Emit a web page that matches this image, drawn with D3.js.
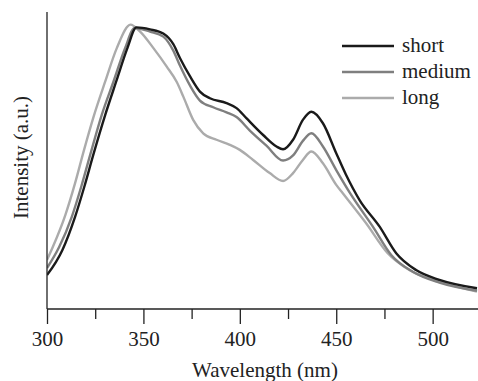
<!DOCTYPE html>
<html>
<head>
<meta charset="utf-8">
<script src="https://cdn.jsdelivr.net/npm/d3@7"></script>
<style>
  html, body { margin: 0; padding: 0; background: #fff; }
  svg { display: block; }
  text { font-family: "Liberation Serif", "Times New Roman", serif; fill: #222; }
</style>
</head>
<body>
<svg id="chart" width="478" height="381"></svg>
<script>
// ---- data ----
const seriesNames = ["short", "medium", "long"];
const seriesColors = ["#1a1a1a", "#7f7f7f", "#ababab"];

const shortWl = [300, 308.0, 314.6, 319.5, 324.0, 330.2, 335.9, 341.7, 346.4, 353.4, 360.3, 365.5, 369.0, 374.2, 379.3, 384.5, 393.1, 398.3, 403.4, 412.1, 419.0, 422.4, 427.6, 432.7, 437.1, 443.1, 450.0, 455.0, 462.1, 472.5, 481.1, 491.4, 503.5, 523];
const shortI  = [0.121, 0.211, 0.33, 0.44, 0.55, 0.693, 0.812, 0.931, 1.005, 0.998, 0.983, 0.945, 0.895, 0.83, 0.776, 0.752, 0.735, 0.717, 0.681, 0.621, 0.58, 0.57, 0.604, 0.675, 0.704, 0.663, 0.556, 0.48, 0.389, 0.294, 0.199, 0.139, 0.104, 0.074];

const mediumWl = [300, 306.3, 312.9, 317.9, 322.4, 328.4, 334.5, 340.5, 345.5, 353.4, 360.3, 365.5, 369.0, 374.2, 379.3, 386.2, 393.1, 398.3, 405.2, 413.8, 422.4, 427.6, 432.7, 437.1, 443.1, 450.0, 457.5, 469.0, 478.5, 489.7, 503.5, 523];
const mediumI  = [0.146, 0.221, 0.33, 0.44, 0.55, 0.693, 0.812, 0.931, 1.003, 0.99, 0.972, 0.922, 0.868, 0.797, 0.744, 0.72, 0.702, 0.685, 0.637, 0.583, 0.53, 0.548, 0.6, 0.627, 0.58, 0.496, 0.41, 0.294, 0.193, 0.133, 0.094, 0.065];

const longWl = [300, 303.0, 309.5, 314.6, 318.9, 324.1, 330.2, 336.2, 343.3, 348.3, 355.2, 362.1, 367.3, 370.7, 375.8, 381.0, 387.9, 394.8, 400.0, 406.9, 415.5, 422.4, 427.6, 432.7, 437.1, 443.1, 450.0, 453.4, 465.5, 476.7, 487.9, 503.5, 523];
const longI  = [0.175, 0.221, 0.335, 0.45, 0.56, 0.685, 0.812, 0.931, 1.015, 0.99, 0.931, 0.865, 0.81, 0.758, 0.675, 0.627, 0.604, 0.586, 0.568, 0.532, 0.485, 0.457, 0.485, 0.532, 0.562, 0.52, 0.443, 0.413, 0.306, 0.199, 0.139, 0.098, 0.062];

const majorTicks = [300, 350, 400, 450, 500];
const minorTicks = [325, 375, 425, 475];
const xTitle = "Wavelength (nm)";
const yTitle = "Intensity (a.u.)";

// ---- layout ----
const svg = d3.select("#chart");
const mLeft = 47, mRight = 478, mTop = 12, mBottom = 309;
const fontSize = 21;

const x = d3.scaleLinear().domain([300, 523]).range([mLeft, 477]);
const y = d3.scaleLinear().domain([0, 1.06]).range([mBottom, mTop]);

const series = [
  { name: seriesNames[0], color: seriesColors[0], wl: shortWl, v: shortI },
  { name: seriesNames[1], color: seriesColors[1], wl: mediumWl, v: mediumI },
  { name: seriesNames[2], color: seriesColors[2], wl: longWl, v: longI }
];

const line = d3.line()
  .x(d => x(d[0]))
  .y(d => y(d[1]))
  .curve(d3.curveMonotoneX);

svg.append("clipPath").attr("id", "clip")
  .append("rect").attr("x", mLeft).attr("y", 0).attr("width", mRight - mLeft).attr("height", mBottom);

// draw long first, short on top
svg.append("g").attr("clip-path", "url(#clip)")
  .selectAll("path")
  .data(series.slice().reverse())
  .join("path")
  .attr("d", s => line(s.wl.map((w, i) => [w, s.v[i]])))
  .attr("fill", "none")
  .attr("stroke", s => s.color)
  .attr("stroke-width", 2.4)
  .attr("stroke-linejoin", "round");

// x axis (major + minor ticks)
const xAxisMajor = d3.axisBottom(x).tickValues(majorTicks).tickSize(15).tickPadding(7.5).tickFormat(d3.format("d"));
const gx = svg.append("g").attr("transform", `translate(0,${mBottom})`).call(xAxisMajor);
gx.select(".domain").remove();
gx.selectAll(".tick line").attr("stroke", "#222").attr("stroke-width", 1.3);
gx.selectAll(".tick text")
  .attr("font-family", "Liberation Serif, Times New Roman, serif")
  .attr("font-size", fontSize).attr("fill", "#222");

const xAxisMinor = d3.axisBottom(x).tickValues(minorTicks).tickSize(10).tickFormat("");
const gxm = svg.append("g").attr("transform", `translate(0,${mBottom})`).call(xAxisMinor);
gxm.select(".domain").remove();
gxm.selectAll(".tick line").attr("stroke", "#222").attr("stroke-width", 1.3);

// axis lines
svg.append("line").attr("x1", mLeft).attr("x2", mRight).attr("y1", mBottom).attr("y2", mBottom)
  .attr("stroke", "#222").attr("stroke-width", 1.3);
svg.append("line").attr("x1", mLeft).attr("x2", mLeft).attr("y1", mTop).attr("y2", mBottom)
  .attr("stroke", "#222").attr("stroke-width", 1.3);

// titles
svg.append("text").attr("x", (mLeft + 477) / 2 + 3).attr("y", 377)
  .attr("text-anchor", "middle").attr("font-size", fontSize).text(xTitle);
svg.append("text")
  .attr("transform", `translate(28,${(mTop + mBottom) / 2 - 3}) rotate(-90)`)
  .attr("text-anchor", "middle").attr("font-size", fontSize).text(yTitle);

// legend
const legendY = [46, 72, 98];
const lg = svg.append("g");
series.forEach((s, i) => {
  lg.append("line").attr("x1", 342).attr("x2", 394)
    .attr("y1", legendY[i]).attr("y2", legendY[i])
    .attr("stroke", s.color).attr("stroke-width", 2.6);
  lg.append("text").attr("x", 402).attr("y", legendY[i]).attr("dy", "0.3em")
    .attr("font-size", fontSize).text(s.name);
});
</script>
</body>
</html>
